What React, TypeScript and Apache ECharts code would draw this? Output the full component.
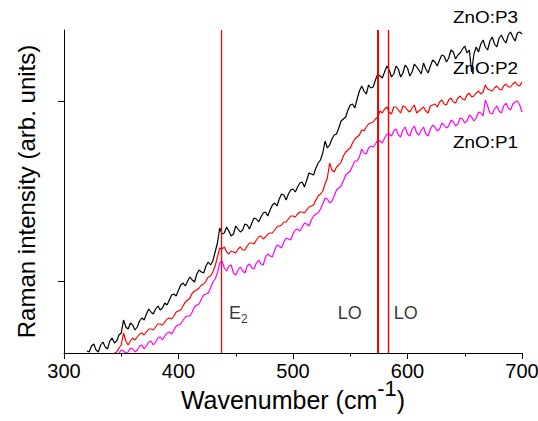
import React, { useEffect, useRef } from "react";
import * as echarts from "echarts";

const wavenumbers = [
  320, 322, 324, 326, 328, 330, 332, 334, 336, 338, 340, 342, 344, 346, 348, 350,
  352, 354, 356, 358, 360, 362, 364, 366, 368, 370, 372, 374, 376, 378, 380, 382,
  384, 386, 388, 390, 392, 394, 396, 398, 400, 402, 404, 406, 408, 410, 412, 414,
  416, 418, 420, 422, 424, 426, 428, 430, 432, 434, 436, 438, 440, 442, 444, 446,
  448, 450, 452, 454, 456, 458, 460, 462, 464, 466, 468, 470, 472, 474, 476, 478,
  480, 482, 484, 486, 488, 490, 492, 494, 496, 498, 500, 502, 504, 506, 508, 510,
  512, 514, 516, 518, 520, 522, 524, 526, 528, 530, 532, 534, 536, 538, 540, 542,
  544, 546, 548, 550, 552, 554, 556, 558, 560, 562, 564, 566, 568, 570, 572, 574,
  576, 578, 580, 582, 584, 586, 588, 590, 592, 594, 596, 598, 600, 602, 604, 606,
  608, 610, 612, 614, 616, 618, 620, 622, 624, 626, 628, 630, 632, 634, 636, 638,
  640, 642, 644, 646, 648, 650, 652, 654, 656, 658, 660, 662, 664, 666, 668, 670,
  672, 674, 676, 678, 680, 682, 684, 686, 688, 690, 692, 694, 696, 698, 700,
];

// ZnO:P3 (black)
const p3 = [
  2, 1, 7, 9, 3, 1, 8, 11, 6, 4, 12, 15, 10, 12, 18, 20,
  33, 26, 24, 30, 28, 23, 26, 32, 35, 33, 39, 44, 41, 39, 44, 47,
  43, 45, 50, 48, 53, 58, 59, 57, 63, 68, 70, 67, 72, 76, 73, 71,
  79, 83, 81, 80, 87, 91, 88, 92, 101, 110, 125, 119, 120, 126, 122, 117,
  119, 127, 124, 121, 123, 129, 128, 124, 130, 135, 134, 131, 136, 140, 141, 137,
  143, 148, 150, 147, 154, 159, 158, 153, 159, 163, 164, 161, 166, 170, 171, 166,
  173, 180, 179, 178, 185, 190, 193, 200, 212, 205, 208, 214, 218, 219, 225, 232,
  234, 236, 243, 248, 249, 245, 254, 262, 267, 262, 259, 268, 265, 266, 273, 279,
  277, 275, 281, 287, 283, 276, 279, 287, 284, 276, 280, 288, 285, 277, 281, 289,
  286, 283, 279, 290, 284, 280, 287, 293, 291, 287, 293, 298, 297, 291, 295, 303,
  301, 294, 298, 300, 304, 307, 300, 303, 281, 299, 306, 301, 309, 313, 306, 303,
  312, 316, 309, 306, 315, 318, 313, 310, 318, 321, 316, 312, 320, 321, 319,
];

// ZnO:P2 (red)
const p2 = [
  null, null, null, null, null, null, null, null, null, null, null, null, 0, 1, 5, 8,
  20, 12, 8, 12, 15, 13, 16, 19, 20, 18, 21, 24, 24, 23, 26, 29,
  29, 28, 31, 34, 35, 34, 37, 41, 42, 43, 47, 51, 53, 55, 60, 62,
  63, 65, 68, 69, 72, 76, 77, 81, 87, 96, 105, 104, 106, 101, 99, 102,
  101, 100, 104, 106, 103, 103, 107, 110, 110, 109, 113, 116, 117, 114, 116, 119,
  120, 120, 123, 126, 127, 128, 131, 131, 134, 137, 137, 136, 139, 141, 141, 140,
  143, 146, 147, 148, 153, 157, 159, 162, 169, 175, 190, 183, 181, 186, 188, 191,
  197, 201, 203, 205, 210, 214, 216, 218, 223, 222, 226, 229, 230, 231, 234, 236,
  242, 240, 244, 246, 241, 239, 246, 246, 243, 240, 247, 246, 243, 241, 245, 248,
  240, 242, 244, 246, 242, 240, 247, 248, 249, 246, 251, 253, 249, 248, 253, 255,
  251, 250, 255, 257, 254, 253, 258, 260, 256, 257, 260, 262, 259, 261, 268, 264,
  263, 262, 265, 267, 264, 263, 267, 269, 266, 266, 269, 271, 268, 267, 271,
];

// ZnO:P1 (magenta)
const p1 = [
  null, null, null, null, null, null, null, null, null, null, null, null, null, null, 0, 3,
  2, 0, 1, 5, 4, 1, 3, 7, 8, 4, 7, 11, 12, 8, 11, 15,
  16, 13, 17, 20, 21, 19, 23, 27, 28, 29, 33, 36, 37, 37, 41, 46,
  48, 49, 54, 58, 59, 60, 65, 71, 74, 80, 90, 92, 85, 82, 87, 88,
  80, 78, 83, 86, 82, 80, 87, 89, 85, 84, 90, 93, 89, 88, 96, 99,
  97, 96, 103, 108, 107, 105, 111, 115, 114, 113, 119, 123, 124, 122, 126, 130,
  129, 127, 133, 137, 139, 140, 144, 149, 155, 154, 150, 152, 157, 163, 165, 167,
  172, 178, 180, 182, 187, 192, 192, 196, 204, 200, 199, 205, 207, 206, 209, 213,
  212, 210, 215, 219, 219, 217, 222, 224, 218, 216, 223, 226, 219, 217, 224, 227,
  220, 218, 223, 226, 219, 217, 224, 228, 226, 222, 224, 230, 228, 225, 227, 233,
  231, 227, 229, 235, 234, 230, 232, 238, 236, 232, 235, 241, 240, 237, 253, 247,
  240, 239, 244, 247, 242, 240, 247, 250, 245, 243, 249, 251, 252, 248, 241,
];

const modeLines = [437, 574, 583];
const modeLineWidths = [1.3, 2, 1.4];
const modeLabels = ["{e|E}{s|2}", "LO", "LO"];
const modeLabelWn = [444, 539, 588];
const modeLabelY = 40;

const xTicks = [300, 400, 500, 600, 700];
const yTickValues = [72, 252];
const sampleNames = ["ZnO:P3", "ZnO:P2", "ZnO:P1"];
const sampleColors = ["#000000", "#ff0000", "#ff00ff"];

const FONT = "'Liberation Sans', Arial, sans-serif";

function pairs(vals: (number | null)[]) {
  return wavenumbers.map((w, i) => [w, vals[i]]);
}

export default function App() {
  const ref = useRef<HTMLDivElement>(null);
  useEffect(() => {
    if (!ref.current) return;
    const chart = echarts.init(ref.current, undefined, { renderer: "svg" });
    const seriesData = [p3, p2, p1];
    const option: any = {
      animation: false,
      backgroundColor: "#ffffff",
      grid: { left: 64, right: 16, top: 30, bottom: 68, outerBoundsMode: "none", containLabel: false },
      xAxis: {
        type: "value",
        min: xTicks[0],
        max: xTicks[xTicks.length - 1],
        interval: 100,
        name: "{a|Wavenumber (cm}{b|-1}{a|)}",
        nameLocation: "middle",
        nameGap: 24,
        nameMoveOverlap: false,
        nameTextStyle: {
          rich: {
            a: { fontFamily: FONT, fontSize: 25, color: "#000", verticalAlign: "bottom" },
            b: { fontFamily: FONT, fontSize: 22, color: "#000", verticalAlign: "bottom", padding: [0, 0, 13, 0] },
          },
        },
        axisLine: { show: true, onZero: false, lineStyle: { color: "#000", width: 1 } },
        axisTick: { show: true, inside: false, length: 6, lineStyle: { color: "#000" } },
        minorTick: { show: true, splitNumber: 2, length: 3.5, lineStyle: { color: "#000" } },
        axisLabel: { show: true, fontFamily: FONT, fontSize: 20, color: "#000", margin: 8 },
        splitLine: { show: false },
        minorSplitLine: { show: false },
      },
      yAxis: {
        type: "value",
        min: 0,
        max: 323,
        name: "Raman intensity (arb. units)",
        nameLocation: "middle",
        nameGap: 26,
        nameMoveOverlap: false,
        nameTextStyle: { fontFamily: FONT, fontSize: 24, color: "#000" },
        axisLine: { show: true, onZero: false, lineStyle: { color: "#000", width: 1 } },
        axisTick: { show: true, inside: false, length: 6, customValues: yTickValues, lineStyle: { color: "#000" } },
        axisLabel: { show: false, customValues: yTickValues },
        splitLine: { show: false },
      },
      graphic: sampleNames.map((n, i) => ({
        type: "text",
        x: 453,
        y: [18, 69, 143][i],
        scaleX: 1.18,
        style: {
          text: n,
          fontFamily: FONT,
          fontSize: 16,
          fill: "#000",
          align: "left",
          verticalAlign: "middle",
        },
      })),
      series: [
        ...seriesData.map((vals, i) => ({
          type: "line",
          name: sampleNames[i],
          data: pairs(vals),
          showSymbol: false,
          symbol: "none",
          lineStyle: { color: sampleColors[i], width: 1.2 },
          z: 2,
        })),
        {
          type: "line",
          data: [],
          z: 3,
          markLine: {
            silent: true,
            symbol: ["none", "none"],
            label: { show: false },
            data: modeLines.map((x, i) => ({
              xAxis: x,
              lineStyle: { color: "#ff0000", width: modeLineWidths[i], type: "solid" },
            })),
          },
        },
        {
          type: "scatter",
          symbolSize: 0,
          z: 4,
          data: modeLabelWn.map((w, i) => ({
            value: [w, modeLabelY],
            label: {
              show: true,
              position: [0, 0],
              align: "left",
              verticalAlign: "middle",
              formatter: modeLabels[i],
              fontFamily: FONT,
              fontSize: 18,
              color: "#000",
              rich: {
                e: { fontFamily: FONT, fontSize: 18, color: "#000" },
                s: { fontFamily: FONT, fontSize: 12, color: "#000", verticalAlign: "bottom", padding: [12, 0, 0, 0] },
              },
            },
          })),
        },
      ],
    };
    chart.setOption(option);
    return () => chart.dispose();
  }, []);
  return (
    <div
      ref={ref}
      style={{ position: "fixed", left: 0, top: 0, width: 538, height: 421 }}
    />
  );
}
